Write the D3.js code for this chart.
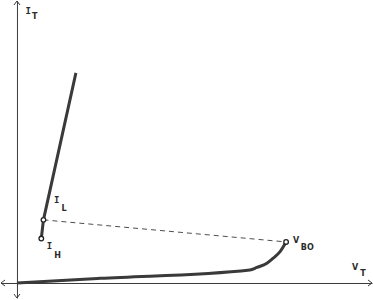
<!DOCTYPE html>
<html>
<head>
<meta charset="utf-8">
<script src="https://cdn.jsdelivr.net/npm/d3@7"></script>
<style>
html,body{margin:0;padding:0;background:#fff;}
svg{display:block;}
text{font-family:"DejaVu Sans",sans-serif;font-size:8px;font-weight:bold;fill:#2a2a2a;}
.iglyph{font-family:"DejaVu Sans Mono",monospace;font-size:9px;font-weight:bold;}
</style>
</head>
<body>
<svg id="chart" width="373" height="300"></svg>
<script>
// ---- data (arbitrary V / I units) ----
const onStateV = [6.85, 7.46, 16.6];     // I_H, I_L, top of on-state branch
const onStateI = [15.7, 22.3, 74.2];
const offStateV = [0, 23.4, 65.6, 67.6, 70.4, 72.1, 74.1, 75.8];
const offStateI = [0, 1.64, 4.6, 5.5, 7.0, 8.7, 11.1, 14.5];
const pointNames = ["I_H", "I_L", "V_BO"];
const pointV = [6.85, 7.46, 75.8];
const pointI = [15.7, 22.3, 14.5];
const axisNames = ["I_T", "V_T"];

const svg = d3.select("#chart");
const x = d3.scaleLinear().domain([-4.5, 100]).range([1, 372]);
const y = d3.scaleLinear().domain([-5.3, 99.6]).range([298, 1]);
const ink = "#3a3a3a";

// axes (no ticks)
svg.append("g").attr("transform", `translate(0,${y(0)})`)
  .call(d3.axisBottom(x).tickValues([]).tickSizeOuter(0));
svg.append("g").attr("transform", `translate(${x(0)},0)`)
  .call(d3.axisLeft(y).tickValues([]).tickSizeOuter(0));
svg.selectAll(".domain").attr("stroke", ink).attr("stroke-width", 1);

// open arrowheads
const ah = 3, al = 4;
const x0 = x(0), y0 = y(0);
const [xl, xr] = x.range();
const [yb, yt] = y.range();
const chev = [
  [[xr - al, y0 - ah], [xr, y0], [xr - al, y0 + ah]],
  [[xl + al, y0 - ah], [xl, y0], [xl + al, y0 + ah]],
  [[x0 - ah, yt + al], [x0, yt], [x0 + ah, yt + al]],
  [[x0 - ah, yb - al], [x0, yb], [x0 + ah, yb - al]]
];
svg.selectAll("path.chev").data(chev).enter().append("path")
  .attr("class", "chev")
  .attr("d", d => d3.line()(d))
  .attr("fill", "none").attr("stroke", ink).attr("stroke-width", 1);

// dashed line I_L -> V_BO
svg.append("line")
  .attr("x1", x(pointV[1])).attr("y1", y(pointI[1]))
  .attr("x2", x(pointV[2])).attr("y2", y(pointI[2]))
  .attr("stroke", ink).attr("stroke-width", 0.9)
  .attr("stroke-dasharray", "5,4");

// off-state curve
const offData = offStateV.map((v, i) => [v, offStateI[i]]);
svg.append("path")
  .datum(offData)
  .attr("d", d3.line().x(d => x(d[0])).y(d => y(d[1])).curve(d3.curveMonotoneX))
  .attr("fill", "none").attr("stroke", ink).attr("stroke-width", 3)
  .attr("stroke-linecap", "butt");

// on-state branch
const onData = onStateV.map((v, i) => [v, onStateI[i]]);
svg.append("path")
  .datum(onData)
  .attr("d", d3.line().x(d => x(d[0])).y(d => y(d[1])))
  .attr("fill", "none").attr("stroke", ink).attr("stroke-width", 3);

// markers
svg.selectAll("circle.pt").data(pointV).enter().append("circle")
  .attr("class", "pt")
  .attr("cx", d => x(d)).attr("cy", (d, i) => y(pointI[i]))
  .attr("r", 2.3)
  .attr("fill", "#fff").attr("stroke", "#222").attr("stroke-width", 1.3);

// labels
function label(px, py, main, sub, subDx, subDy, mono) {
  const t = svg.append("text").attr("x", px).attr("y", py);
  t.append("tspan").attr("class", mono ? "iglyph" : null).text(main);
  t.append("tspan").attr("dx", subDx).attr("dy", subDy).text(sub);
}
const [nIH, nIL, nVBO] = pointNames.map(s => s.split("_"));
label(x(pointV[0]) + 5.5, y(pointI[0]) + 10.5, nIH[0], nIH[1], 2, 9, true);
label(x(pointV[1]) + 10.5, y(pointI[1]) - 17, nIL[0], nIL[1], 2, 8, true);
label(x(pointV[2]) + 7, y(pointI[2]) + 1, nVBO[0], nVBO[1], 1.5, 7, false);
const [nIT, nVT] = axisNames.map(s => s.split("_"));
label(x0 + 8.5, 14.3, nIT[0], nIT[1], 1, 5, true);
label(352, y0 - 13, nVT[0], nVT[1], 2, 6.5, false);
</script>
</body>
</html>
